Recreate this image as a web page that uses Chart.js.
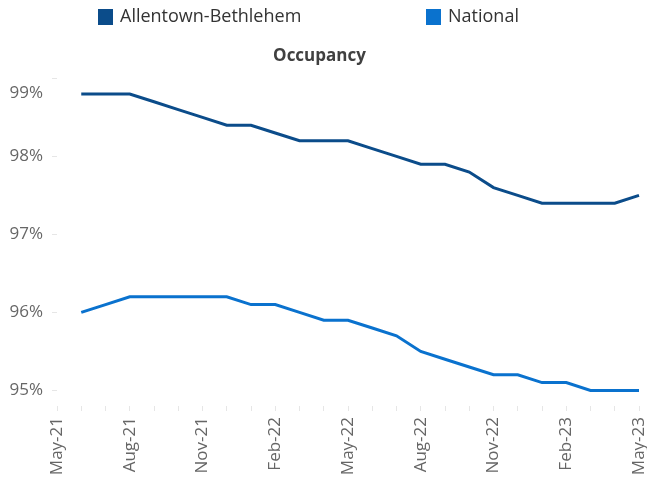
<!DOCTYPE html>
<html lang="en">
<head>
    <meta charset="UTF-8">
    <title>Occupancy</title>
    <script src="https://cdn.jsdelivr.net/npm/chart.js"></script>
    <style>
        body {
            margin: 0;
            background-color: #ffffff;
        }

        .chart-container {
            position: relative;
            width: 647px;
            height: 480px;
        }
    </style>
</head>
<body>

    <div class="chart-container">
        <canvas id="occupancyChart"></canvas>
    </div>

    <script>
        // Monthly occupancy, May-21 to May-23 (no reading for May-21)
        const months = ['May-21', 'Jun-21', 'Jul-21', 'Aug-21', 'Sep-21', 'Oct-21', 'Nov-21', 'Dec-21',
            'Jan-22', 'Feb-22', 'Mar-22', 'Apr-22', 'May-22', 'Jun-22', 'Jul-22', 'Aug-22', 'Sep-22',
            'Oct-22', 'Nov-22', 'Dec-22', 'Jan-23', 'Feb-23', 'Mar-23', 'Apr-23', 'May-23'];
        const allentown = [null, 98.8, 98.8, 98.8, 98.7, 98.6, 98.5, 98.4, 98.4, 98.3, 98.2, 98.2, 98.2,
            98.1, 98.0, 97.9, 97.9, 97.8, 97.6, 97.5, 97.4, 97.4, 97.4, 97.4, 97.5];
        const national = [null, 96.0, 96.1, 96.2, 96.2, 96.2, 96.2, 96.2, 96.1, 96.1, 96.0, 95.9, 95.9,
            95.8, 95.7, 95.5, 95.4, 95.3, 95.2, 95.2, 95.1, 95.1, 95.0, 95.0, 95.0];
        const yTicks = [95, 96, 97, 98, 99];

        Chart.defaults.font.family = "'Open Sans', sans-serif";

        // legend drawn by hand so the two entries sit where the original puts them
        const legendPlugin = {
            id: 'manualLegend',
            afterDraw(chart) {
                const ctx = chart.ctx;
                const starts = [98, 426];
                chart.data.datasets.forEach((ds, i) => {
                    ctx.save();
                    ctx.fillStyle = ds.borderColor;
                    ctx.fillRect(starts[i], 9, 15, 16);
                    ctx.fillStyle = '#333333';
                    ctx.font = "18px 'Open Sans', sans-serif";
                    ctx.textBaseline = 'middle';
                    ctx.fillText(ds.label, starts[i] + 22, 17);
                    ctx.restore();
                });
            }
        };

        const ctx = document.getElementById('occupancyChart').getContext('2d');
        new Chart(ctx, {
            type: 'line',
            data: {
                labels: months,
                datasets: [{
                    label: 'Allentown-Bethlehem',
                    data: allentown,
                    borderColor: '#0B4C8A',
                    backgroundColor: '#0B4C8A',
                    borderWidth: 3,
                    pointRadius: 0,
                    tension: 0
                }, {
                    label: 'National',
                    data: national,
                    borderColor: '#0A72CE',
                    backgroundColor: '#0A72CE',
                    borderWidth: 3,
                    pointRadius: 0,
                    tension: 0
                }]
            },
            options: {
                responsive: true,
                maintainAspectRatio: false,
                animation: false,
                layout: {
                    padding: { top: 38, right: 8, left: 0, bottom: 0 }
                },
                plugins: {
                    legend: { display: false },
                    tooltip: { enabled: false },
                    title: {
                        display: true,
                        text: 'Occupancy',
                        color: '#404040',
                        font: { size: 17, weight: 'bold' },
                        padding: { top: 8, bottom: 12 }
                    }
                },
                scales: {
                    x: {
                        offset: false,
                        border: { display: false },
                        grid: {
                            drawOnChartArea: false,
                            tickLength: 5,
                            color: '#e6e6e6'
                        },
                        ticks: {
                            autoSkip: false,
                            maxRotation: 90,
                            minRotation: 90,
                            padding: 6,
                            color: '#666666',
                            font: { size: 17 },
                            callback: (val, idx) => idx % 3 === 0 ? months[idx] : ''
                        },
                        afterFit: scale => {
                            scale.height = 74;
                            scale.paddingLeft = 0;
                            scale.paddingRight = 0;
                        }
                    },
                    y: {
                        min: 94.8,
                        max: 99,
                        border: { display: false },
                        grid: {
                            drawOnChartArea: false,
                            tickLength: 5,
                            color: '#e6e6e6'
                        },
                        ticks: {
                            padding: 9,
                            color: '#666666',
                            font: { size: 17, lineHeight: 1.76 },
                            // top label sits a little below its tick, as in the original
                            callback: v => v === 99 ? ['', v + '%'] : v + '%'
                        },
                        afterBuildTicks: scale => {
                            scale.ticks = yTicks.map(v => ({ value: v }));
                        },
                        afterFit: scale => { scale.width = 57; }
                    }
                }
            },
            plugins: [legendPlugin]
        });
    </script>
</body>
</html>
